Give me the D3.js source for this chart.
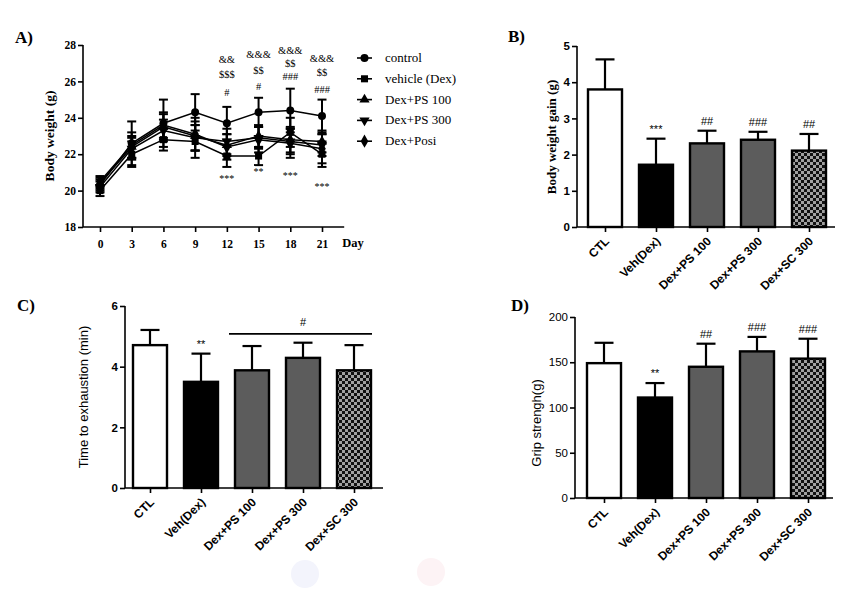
<!DOCTYPE html>
<html><head><meta charset="utf-8">
<script src="https://cdn.jsdelivr.net/npm/d3@7"></script>
<style>
body{margin:0;background:#fff;}
svg{display:block;}
.serif{font-family:"Liberation Serif","Times New Roman",serif;}
.sans{font-family:"Liberation Sans",Arial,sans-serif;}
</style></head>
<body>
<svg id="c" width="862" height="596"></svg>
<script>
// ---------- DATA ----------
const days = [0, 3, 6, 9, 12, 15, 18, 21];
const seriesNames = ["control", "vehicle (Dex)", "Dex+PS 100", "Dex+PS 300", "Dex+Posi"];
const controlMean = [20.3, 22.6, 23.7, 24.3, 23.7, 24.3, 24.4, 24.1];
const controlSD   = [0.3, 1.2, 1.3, 1.0, 0.9, 0.8, 1.2, 0.9];
const vehicleMean = [20.0, 22.0, 22.8, 22.7, 21.9, 21.9, 23.2, 22.0];
const vehicleSD   = [0.3, 0.7, 0.6, 0.9, 0.6, 0.5, 0.8, 0.7];
const ps100Mean   = [20.4, 22.4, 23.5, 23.0, 22.5, 23.0, 22.8, 22.7];
const ps100SD     = [0.3, 0.6, 0.7, 0.8, 0.6, 0.6, 0.7, 0.6];
const ps300Mean   = [20.2, 22.3, 23.3, 22.9, 22.7, 22.9, 22.7, 22.5];
const ps300SD     = [0.3, 0.6, 0.6, 0.7, 0.7, 0.6, 0.7, 0.6];
const posiMean    = [20.5, 22.5, 23.6, 23.1, 22.4, 22.8, 22.6, 22.3];
const posiSD      = [0.3, 0.7, 0.7, 0.9, 0.7, 0.7, 0.8, 0.8];
const weightTicks = [18, 20, 22, 24, 26, 28];
// significance marks in panel A: [day, lines above (top to bottom)], [day, stars below]
const sigAbove = [
  [12, ["&&", "$$$", "#"]],
  [15, ["&&&", "$$", "#"]],
  [18, ["&&&", "$$", "###"]],
  [21, ["&&&", "$$", "###"]]
];
const sigBelow = [[12, "***"], [15, "**"], [18, "***"], [21, "***"]];

const groups = ["CTL", "Veh(Dex)", "Dex+PS 100", "Dex+PS 300", "Dex+SC 300"];
const gainMean = [3.8, 1.72, 2.31, 2.41, 2.11];
const gainSD   = [0.83, 0.72, 0.35, 0.22, 0.46];
const gainSig  = ["", "***", "##", "###", "##"];
const gainTicks = [0, 1, 2, 3, 4, 5];

const exhaustMean = [4.71, 3.5, 3.88, 4.29, 3.88];
const exhaustSD   = [0.5, 0.93, 0.8, 0.5, 0.83];
const exhaustSig  = ["", "**", "", "", ""];
const exhaustTicks = [0, 2, 4, 6];

const gripMean = [149, 111, 145, 162, 154];
const gripSD   = [22.5, 16, 25.5, 16, 22];
const gripSig  = ["", "**", "##", "###", "###"];
const gripTicks = [0, 50, 100, 150, 200];

// ---------- DRAW ----------
const svg = d3.select("#c");
const defs = svg.append("defs");
const pat = defs.append("pattern").attr("id", "check").attr("patternUnits", "userSpaceOnUse")
  .attr("width", 6).attr("height", 6);
pat.append("rect").attr("width", 6).attr("height", 6).attr("fill", "#111");
pat.append("rect").attr("x", 0).attr("y", 0).attr("width", 3).attr("height", 3).attr("fill", "#a0a0a0");
pat.append("rect").attr("x", 3).attr("y", 3).attr("width", 3).attr("height", 3).attr("fill", "#a0a0a0");
const fills = ["#ffffff", "#000000", "#5c5c5c", "#5c5c5c", "url(#check)"];

// faint background blobs
svg.append("circle").attr("cx", 305).attr("cy", 574).attr("r", 14).attr("fill", "#f3f4fc");
svg.append("circle").attr("cx", 431).attr("cy", 572).attr("r", 14).attr("fill", "#fdf3f5");

function styleAxis(g, cls, size, weight) {
  g.selectAll("path.domain").remove();
  g.selectAll("line").attr("stroke", "#000").attr("stroke-width", 1.6);
  g.selectAll("text").attr("class", cls).attr("font-size", size).attr("font-weight", weight).attr("fill", "#000");
}

// ---- Panel A ----
(function () {
  const x = d3.scaleLinear().domain([0, 21]).range([100, 322]);
  const y = d3.scaleLinear().domain([18, 28]).range([227, 45]);
  const g = svg.append("g");
  g.append("text").attr("class", "serif").attr("x", 15).attr("y", 43).attr("font-size", 17)
    .attr("font-weight", "bold").text("A)");
  const ya = g.append("g").attr("transform", "translate(83,0)")
    .call(d3.axisLeft(y).tickValues(weightTicks).tickSize(5).tickPadding(2).tickFormat(d3.format("d")));
  styleAxis(ya, "serif", 11.5, "bold");
  g.append("line").attr("x1", 83).attr("x2", 83).attr("y1", y(28)).attr("y2", y(18))
    .attr("stroke", "#000").attr("stroke-width", 1.6);
  const xa = g.append("g").attr("transform", "translate(0,227)")
    .call(d3.axisBottom(x).tickValues(days).tickSize(5).tickPadding(8).tickFormat(d3.format("d")));
  styleAxis(xa, "serif", 11.5, "bold");
  g.append("line").attr("x1", 83).attr("x2", x(23.1)).attr("y1", 227).attr("y2", 227)
    .attr("stroke", "#000").attr("stroke-width", 1.6);
  g.append("text").attr("class", "serif").attr("x", x(23.1) - 2).attr("y", 247)
    .attr("font-size", 12.5).attr("font-weight", "bold").text("Day");
  g.append("text").attr("class", "serif").attr("transform", "translate(54,136) rotate(-90)")
    .attr("text-anchor", "middle").attr("font-size", 13.5).attr("font-weight", "bold").text("Body weight (g)");

  const means = [controlMean, vehicleMean, ps100Mean, ps300Mean, posiMean];
  const sds = [controlSD, vehicleSD, ps100SD, ps300SD, posiSD];
  const syms = [
    d3.symbol().type(d3.symbolCircle).size(50),
    d3.symbol().type(d3.symbolSquare).size(50),
    d3.symbol().type(d3.symbolTriangle).size(45),
    d3.symbol().type(d3.symbolTriangle).size(45),
    d3.symbol().type(d3.symbolDiamond).size(50)
  ];
  const rots = [0, 0, 0, 180, 0];
  const line = d3.line().x((d, i) => x(days[i])).y(d => y(d));
  means.forEach((m, s) => {
    m.forEach((v, i) => {
      const cx = x(days[i]), lo = y(v - sds[s][i]), hi = y(v + sds[s][i]);
      g.append("line").attr("x1", cx).attr("x2", cx).attr("y1", lo).attr("y2", hi).attr("stroke", "#000").attr("stroke-width", 2);
      [lo, hi].forEach(yy => g.append("line").attr("x1", cx - 4.5).attr("x2", cx + 4.5).attr("y1", yy).attr("y2", yy)
        .attr("stroke", "#000").attr("stroke-width", 2));
    });
  });
  means.forEach((m, s) => {
    g.append("path").attr("d", line(m)).attr("fill", "none").attr("stroke", "#000").attr("stroke-width", 1.5);
    m.forEach((v, i) => {
      g.append("path").attr("d", syms[s]()).attr("fill", "#000")
        .attr("transform", `translate(${x(days[i])},${y(v)}) rotate(${rots[s]})`);
    });
  });
  const aboveY = {12: [59, 74, 92], 15: [54, 70, 86], 18: [50, 63, 76], 21: [58, 72, 89]};
  sigAbove.forEach(([d, labs]) => {
    labs.forEach((t, k) => g.append("text").attr("class", "serif").attr("x", x(d)).attr("y", aboveY[d][k] + 4)
      .attr("text-anchor", "middle").attr("font-size", 10.5).text(t));
  });
  const belowY = {12: 178, 15: 171, 18: 175, 21: 186};
  sigBelow.forEach(([d, t]) => g.append("text").attr("class", "serif").attr("x", x(d)).attr("y", belowY[d] + 4)
    .attr("text-anchor", "middle").attr("font-size", 10).text(t));
  seriesNames.forEach((n, s) => {
    const ly = 58 + s * 20.8;
    g.append("line").attr("x1", 357).attr("x2", 372).attr("y1", ly).attr("y2", ly).attr("stroke", "#000").attr("stroke-width", 1.6);
    g.append("path").attr("d", syms[s]()).attr("fill", "#000").attr("transform", `translate(364.5,${ly}) rotate(${rots[s]})`);
    g.append("text").attr("class", "serif").attr("x", 385).attr("y", ly + 4).attr("font-size", 13).text(n);
  });
})();

// ---- Bar panels ----
function barPanel(opt) {
  const g = svg.append("g");
  const x = d3.scalePoint().domain(groups).range([opt.c0, opt.c0 + 204]);
  const y = d3.scaleLinear().domain(opt.domain).range([opt.y0, opt.y1]);
  const bw = 34;
  g.append("text").attr("class", "serif").attr("x", opt.tx).attr("y", opt.ty).attr("font-size", 17)
    .attr("font-weight", "bold").text(opt.title);
  const ya = g.append("g").attr("transform", `translate(${opt.ax},0)`)
    .call(d3.axisLeft(y).tickValues(opt.ticks).tickSize(5).tickPadding(2).tickFormat(d3.format("d")));
  styleAxis(ya, "sans", 11.5, opt.tickWeight);
  g.append("line").attr("x1", opt.ax).attr("x2", opt.ax).attr("y1", opt.y1).attr("y2", opt.y0).attr("stroke", "#000").attr("stroke-width", 1.6);
  const xa = g.append("g").attr("transform", `translate(0,${opt.y0})`)
    .call(d3.axisBottom(x).tickSize(5).tickFormat(""));
  styleAxis(xa, "sans", 11, "bold");
  g.append("line").attr("x1", opt.ax).attr("x2", opt.ax + 258).attr("y1", opt.y0).attr("y2", opt.y0).attr("stroke", "#000").attr("stroke-width", 1.6);
  groups.forEach(c => g.append("text").attr("class", "sans").attr("font-size", 12).attr("font-weight", "bold")
    .attr("text-anchor", "end")
    .attr("transform", `translate(${x(c) + 5},${opt.y0 + 15}) rotate(-45)`).text(c));
  g.append("text").attr("class", opt.labelCls).attr("transform", `translate(${opt.lx},${opt.ly}) rotate(-90)`)
    .attr("text-anchor", "middle").attr("font-size", opt.labelSize).attr("font-weight", opt.labelWeight).text(opt.label);
  opt.mean.forEach((v, i) => {
    const cx = x(groups[i]);
    const top = y(v + opt.sd[i]);
    g.append("line").attr("x1", cx).attr("x2", cx).attr("y1", y(v)).attr("y2", top).attr("stroke", "#000").attr("stroke-width", 2.2);
    g.append("line").attr("x1", cx - 9.5).attr("x2", cx + 9.5).attr("y1", top).attr("y2", top).attr("stroke", "#000").attr("stroke-width", 2.2);
  });
  opt.mean.forEach((v, i) => {
    const cx = x(groups[i]);
    g.append("rect").attr("x", cx - bw / 2).attr("y", y(v)).attr("width", bw).attr("height", y(0) - y(v))
      .attr("fill", fills[i]).attr("stroke", "#000").attr("stroke-width", 2.4);
  });
  opt.sig.forEach((t, i) => {
    if (!t) return;
    const cx = x(groups[i]);
    g.append("text").attr("class", "sans").attr("x", cx).attr("y", y(opt.mean[i] + opt.sd[i]) - 6)
      .attr("text-anchor", "middle").attr("font-size", 11).text(t);
  });
  return {g, x, y};
}

barPanel({title: "B)", tx: 508, ty: 42, c0: 605, ax: 577, y0: 227, y1: 46, domain: [0, 5], ticks: gainTicks,
  mean: gainMean, sd: gainSD, sig: gainSig, label: "Body weight gain (g)", labelCls: "serif", labelSize: 13,
  labelWeight: "bold", lx: 556, ly: 137, tickWeight: "bold"});

const pc = barPanel({title: "C)", tx: 17, ty: 311, c0: 150, ax: 125, y0: 488, y1: 306, domain: [0, 6], ticks: exhaustTicks,
  mean: exhaustMean, sd: exhaustSD, sig: exhaustSig, label: "Time to exhaustion (min)", labelCls: "sans", labelSize: 13,
  labelWeight: "normal", lx: 88, ly: 397, tickWeight: "bold"});
pc.g.append("line").attr("x1", pc.x("Dex+PS 100") - 23).attr("x2", pc.x("Dex+SC 300") + 18)
  .attr("y1", pc.y(5.08)).attr("y2", pc.y(5.08)).attr("stroke", "#000").attr("stroke-width", 1.8);
pc.g.append("text").attr("class", "sans").attr("x", pc.x("Dex+PS 300")).attr("y", pc.y(5.08) - 8)
  .attr("text-anchor", "middle").attr("font-size", 11).text("#");

barPanel({title: "D)", tx: 511, ty: 311, c0: 604, ax: 575, y0: 498, y1: 317, domain: [0, 200], ticks: gripTicks,
  mean: gripMean, sd: gripSD, sig: gripSig, label: "Grip strengh(g)", labelCls: "sans", labelSize: 13,
  labelWeight: "normal", lx: 541, ly: 423, tickWeight: "normal"});
</script>
</body></html>
